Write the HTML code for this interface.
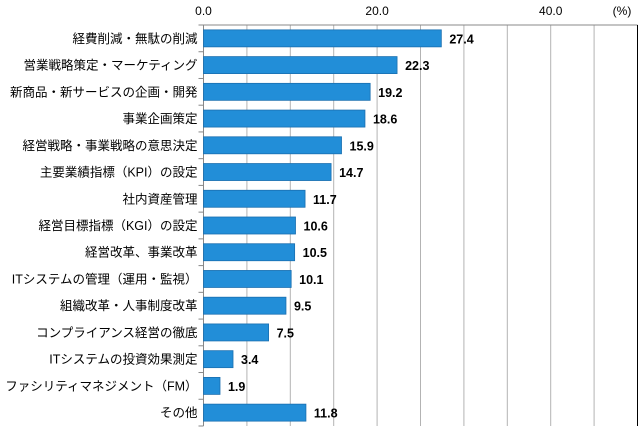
<!DOCTYPE html>
<html><head><meta charset="utf-8"><style>
body{margin:0;background:#fff;}
svg text{font-family:"Liberation Sans","Noto Sans CJK JP",sans-serif;}
</style></head><body>
<svg id="c" width="642" height="431"></svg>
<script>
const categories=["経費削減・無駄の削減","営業戦略策定・マーケティング","新商品・新サービスの企画・開発","事業企画策定","経営戦略・事業戦略の意思決定","主要業績指標（KPI）の設定","社内資産管理","経営目標指標（KGI）の設定","経営改革、事業改革","ITシステムの管理（運用・監視）","組織改革・人事制度改革","コンプライアンス経営の徹底","ITシステムの投資効果測定","ファシリティマネジメント（FM）","その他"];
const values=[27.4,22.3,19.2,18.6,15.9,14.7,11.7,10.6,10.5,10.1,9.5,7.5,3.4,1.9,11.8];
const tickLabels=["0.0","20.0","40.0"];
const tickValues=[0,20,40];
const gridValues=[5,10,15,20,25,30,35,40,45];
const xMax=50;
const NS="http://www.w3.org/2000/svg";
const svg=document.getElementById('c');
const L=203.5,R=637.5,T=25,B=426;
const x=v=>L+(R-L)*v/xMax;
const rowH=(B-T)/categories.length;
const y=i=>T+i*rowH;
function mk(t,a){const e=document.createElementNS(NS,t);for(const k in a)e.setAttribute(k,a[k]);svg.appendChild(e);return e;}
gridValues.forEach(v=>{
const g=mk('line',{x1:x(v),x2:x(v),y1:T,y2:B,stroke:'#b3b3b3','stroke-width':1});


});
let e=mk('line',{x1:L,x2:R,y1:T,y2:T,stroke:'#888'});


e=mk('line',{x1:R,x2:R,y1:T,y2:B,stroke:'#000'});


e=mk('line',{x1:L,x2:L,y1:T,y2:B,stroke:'#888'});


tickValues.forEach((v,i)=>{
const t=mk('text',{x:x(v),y:15,'text-anchor':'middle','font-size':12,fill:'#000'});
t.textContent=tickLabels[i];


});
e=mk('text',{x:622,y:15,'text-anchor':'middle','font-size':12});
e.textContent='(%)';


for(let i=0;i<=categories.length;i++){
const tk=mk('line',{x1:L-5,x2:L,y1:y(i),y2:y(i),stroke:'#888'});


}
categories.forEach((c,i)=>{
const cy=y(i)+rowH/2;
const lb=mk('text',{x:L-6,y:cy+4.5,'text-anchor':'end','font-size':12.5,fill:'#000'});
lb.textContent=c;


const b=mk('rect',{x:L,y:cy-8.5,width:x(values[i])-L,height:17,fill:'#228ed8',stroke:'#1a6fb0','stroke-width':0.8});


const v=mk('text',{x:x(values[i])+8,y:cy+5,'font-size':12.5,'font-weight':'bold',fill:'#000'});
v.textContent=values[i].toFixed(1);


});
</script>
</body></html>
